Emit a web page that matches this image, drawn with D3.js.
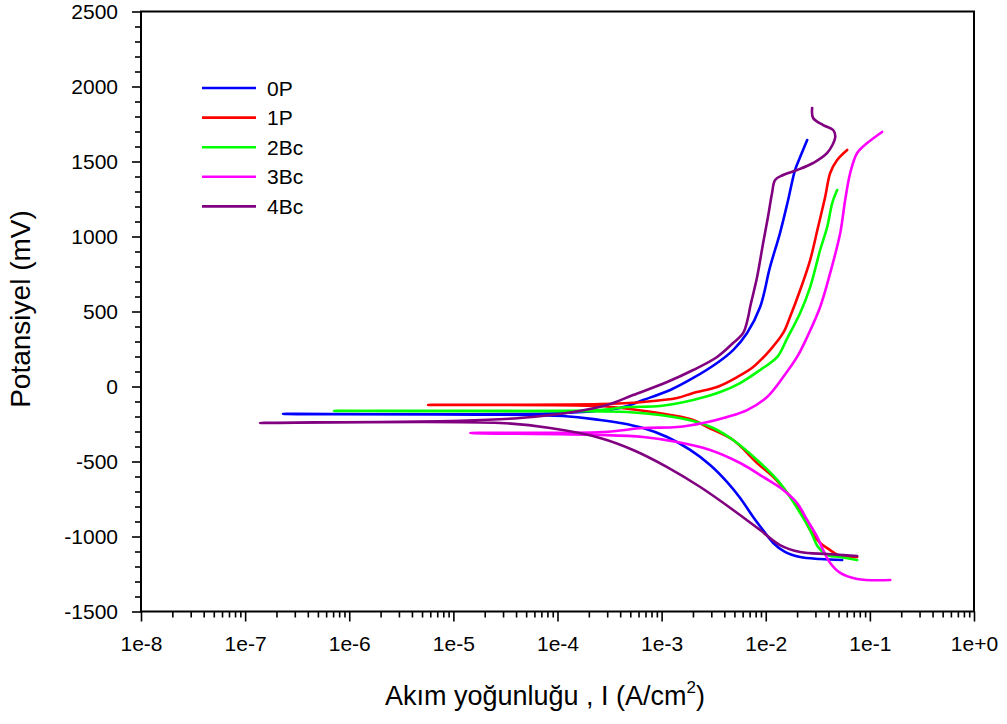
<!DOCTYPE html>
<html>
<head>
<meta charset="utf-8">
<script src="https://cdn.jsdelivr.net/npm/d3@7"></script>
<style>
  body { margin: 0; background: #fff; }
  svg { display: block; }
  text { font-family: Arial, "Liberation Sans", sans-serif; fill: #000; }
</style>
</head>
<body>
<svg id="chart" width="1007" height="724"></svg>
<script>
// Potentiodynamic polarisation curves: current density (A/cm²) vs potential (mV)
const seriesNames = ["0P", "1P", "2Bc", "3Bc", "4Bc"];
const seriesColors = ["#0000ff", "#ff0000", "#00ff00", "#ff00ff", "#800080"];

// 0P
const current0P = [5.42e-2,3.33e-2,2.14e-2,1.53e-2,1.18e-2,9.4e-3,7.57e-3,5.68e-3,4.26e-3,2.92e-3,
  1.88e-3,1.13e-3,6.64e-4,3.99e-4,2.56e-4,1.13e-4,2.31e-7,1.13e-4,3.99e-4,6.64e-4,
  1.21e-3,2.01e-3,3.41e-3,4.86e-3,6.62e-3,8.83e-3,1.10e-2,1.37e-2,1.64e-2,
  1.91e-2,2.14e-2,2.50e-2];
const potential0P = [-1157,-1150,-1137,-1103,-1043,-957,-870,-743,-637,-523,
  -423,-337,-277,-243,-223,-197,-183,-177,-143,-90,
  -23,57,157,243,357,530,797,1023,1243,
  1443,1530,1643];

// 1P
const current1P = [7.55e-2,5.19e-2,3.89e-2,3.33e-2,2.67e-2,2.14e-2,1.61e-2,1.18e-2,8.26e-3,4.86e-3,
  2.74e-3,2.01e-3,1.21e-3,5.82e-4,2.56e-4,5.71e-6,2.56e-4,6.64e-4,1.41e-3,2.01e-3,
  3.41e-3,5.31e-3,7.57e-3,1.10e-2,1.47e-2,1.71e-2,2.14e-2,2.67e-2,3.18e-2,3.72e-2,
  4.16e-2,4.85e-2,6.05e-2];
const potential1P = [-1137,-1130,-1077,-1043,-957,-823,-710,-603,-510,-357,
  -270,-223,-190,-157,-130,-123,-117,-103,-77,-43,
  -3,63,130,243,357,463,643,843,1063,1263,
  1423,1510,1577];

// 2Bc
const current2Bc = [7.55e-2,5.19e-2,3.89e-2,3.18e-2,2.67e-2,2.14e-2,1.71e-2,1.29e-2,8.26e-3,4.86e-3,
  3.13e-3,2.01e-3,9.68e-4,4.67e-4,7.14e-7,2.56e-4,4.67e-4,9.68e-4,2.01e-3,3.65e-3,
  5.68e-3,8.83e-3,1.29e-2,1.61e-2,2.14e-2,2.67e-2,3.33e-2,3.89e-2,4.35e-2,4.85e-2];
const potential2Bc = [-1157,-1137,-1123,-1070,-957,-843,-737,-623,-490,-357,
  -277,-230,-190,-170,-163,-157,-137,-130,-90,-37,
  23,110,197,323,490,663,910,1063,1223,1310];

// 3Bc
const current3Bc = [1.57e-1,7.55e-2,5.19e-2,4.16e-2,3.56e-2,3.12e-2,2.50e-2,2.00e-2,1.47e-2,9.44e-3,
  5.68e-3,2.92e-3,1.41e-3,6.64e-4,2.56e-4,1.45e-5,2.74e-4,6.64e-4,1.41e-3,2.51e-3,
  4.26e-3,6.62e-3,1.03e-2,1.47e-2,2.00e-2,2.50e-2,3.33e-2,4.16e-2,5.19e-2,5.79e-2,
  6.47e-2,7.55e-2,9.42e-2,1.31e-1];
const potential3Bc = [-1290,-1283,-1243,-1177,-1090,-1003,-890,-777,-690,-603,
  -510,-423,-370,-337,-323,-310,-303,-277,-270,-243,
  -203,-157,-70,63,197,330,530,757,1023,1243,
  1423,1557,1623,1697];

// 4Bc
const current4Bc = [7.55e-2,3.89e-2,2.14e-2,1.37e-2,8.83e-3,4.86e-3,2.35e-3,1.13e-3,5.32e-4,2.56e-4,
  8.49e-5,2.81e-5,1.39e-7,1.16e-5,4.38e-5,1.41e-4,2.99e-4,5.32e-4,1.13e-3,2.01e-3,3.41e-3,
  4.86e-3,6.07e-3,6.78e-3,7.08e-3,8.26e-3,9.44e-3,1.05e-2,1.15e-2,1.23e-2,1.47e-2,
  2.00e-2,2.85e-2,3.89e-2,4.65e-2,4.44e-2,3.56e-2,2.85e-2,2.79e-2];
const potential4Bc = [-1130,-1117,-1103,-1057,-957,-823,-670,-537,-423,-343,
  -277,-243,-243,-228,-210,-170,-123,-57,30,110,197,
  290,357,463,530,730,957,1130,1290,1377,1410,
  1443,1490,1557,1663,1710,1743,1790,1857];

const xTickValues = [1e-8,1e-7,1e-6,1e-5,1e-4,1e-3,1e-2,1e-1,1];
const xTickLabels = ["1e-8","1e-7","1e-6","1e-5","1e-4","1e-3","1e-2","1e-1","1e+0"];
const yTickValues = [-1500,-1000,-500,0,500,1000,1500,2000,2500];
const yTickLabels = ["-1500","-1000","-500","0","500","1000","1500","2000","2500"];

const currents = [current0P, current1P, current2Bc, current3Bc, current4Bc];
const potentials = [potential0P, potential1P, potential2Bc, potential3Bc, potential4Bc];

const svg = d3.select("#chart");
const plot = { left: 141, right: 974, top: 11.5, bottom: 611.5 };

const x = d3.scaleLog().domain([1e-8, 1]).range([plot.left, plot.right]);
const y = d3.scaleLinear().domain([-1500, 2500]).range([plot.bottom, plot.top]);

// minor ticks
const xMinor = [];
for (let e = -8; e < 0; e++) for (let m = 2; m <= 9; m++) xMinor.push(m * Math.pow(10, e));
const yMinor = d3.range(-1500, 2501, 100).filter(v => v % 500 !== 0);

const tickStyle = g => {
  g.select(".domain").remove();
  g.selectAll(".tick line").attr("stroke", "#000").attr("stroke-width", 1.6);
};

svg.append("g").attr("transform", `translate(0,${plot.bottom})`)
  .call(d3.axisBottom(x).tickValues(xMinor).tickSize(6).tickFormat(""))
  .call(tickStyle);
svg.append("g").attr("transform", `translate(0,${plot.bottom})`)
  .call(d3.axisBottom(x).tickValues(xTickValues).tickSize(10).tickPadding(15)
    .tickFormat((d, i) => xTickLabels[i]))
  .call(tickStyle)
  .selectAll("text").attr("font-size", 21).attr("fill", "#000");

svg.append("g").attr("transform", `translate(${plot.left},0)`)
  .call(d3.axisLeft(y).tickValues(yMinor).tickSize(6).tickFormat(""))
  .call(tickStyle);
svg.append("g").attr("transform", `translate(${plot.left},0)`)
  .call(d3.axisLeft(y).tickValues(yTickValues).tickSize(9).tickPadding(14)
    .tickFormat((d, i) => yTickLabels[i]))
  .call(tickStyle)
  .selectAll("text").attr("font-size", 21).attr("fill", "#000");

// frame
svg.append("rect")
  .attr("x", plot.left).attr("y", plot.top)
  .attr("width", plot.right - plot.left).attr("height", plot.bottom - plot.top)
  .attr("fill", "none").attr("stroke", "#000").attr("stroke-width", 2);

// curves (smoothed through the measured points)
const line = d3.line().x(d => x(d[0])).y(d => y(d[1]))
  .curve(d3.curveCatmullRom.alpha(0.5));
svg.append("defs").append("clipPath").attr("id", "plotclip")
  .append("rect").attr("x", plot.left).attr("y", plot.top)
  .attr("width", plot.right - plot.left).attr("height", plot.bottom - plot.top);

const curves = svg.append("g").attr("clip-path", "url(#plotclip)");
currents.forEach((cur, k) => {
  const pts = cur.map((c, i) => [c, potentials[k][i]]);
  curves.append("path")
    .attr("d", line(pts))
    .attr("fill", "none")
    .attr("stroke", seriesColors[k])
    .attr("stroke-width", 2.6)
    .attr("stroke-linejoin", "round")
    .attr("stroke-linecap", "round");
});

// legend
const legend = svg.append("g");
seriesNames.forEach((name, k) => {
  const ly = 88 + k * 29.6;
  legend.append("line").attr("x1", 202).attr("x2", 256).attr("y1", ly).attr("y2", ly)
    .attr("stroke", seriesColors[k]).attr("stroke-width", 2.6);
  legend.append("text").attr("x", 267).attr("y", ly).attr("dy", "0.36em")
    .attr("font-size", 21).text(name);
});

// axis titles
svg.append("text")
  .attr("transform", "translate(30,309) rotate(-90)")
  .attr("text-anchor", "middle")
  .attr("font-size", 28)
  .text("Potansiyel (mV)");

const xt = svg.append("text")
  .attr("x", 545).attr("y", 705)
  .attr("text-anchor", "middle")
  .attr("font-size", 27);
xt.append("tspan").text("Akım yoğunluğu , I (A/cm");
xt.append("tspan").attr("font-size", 17).attr("dy", -12).text("2");
xt.append("tspan").attr("dy", 12).text(")");
</script>
</body>
</html>
